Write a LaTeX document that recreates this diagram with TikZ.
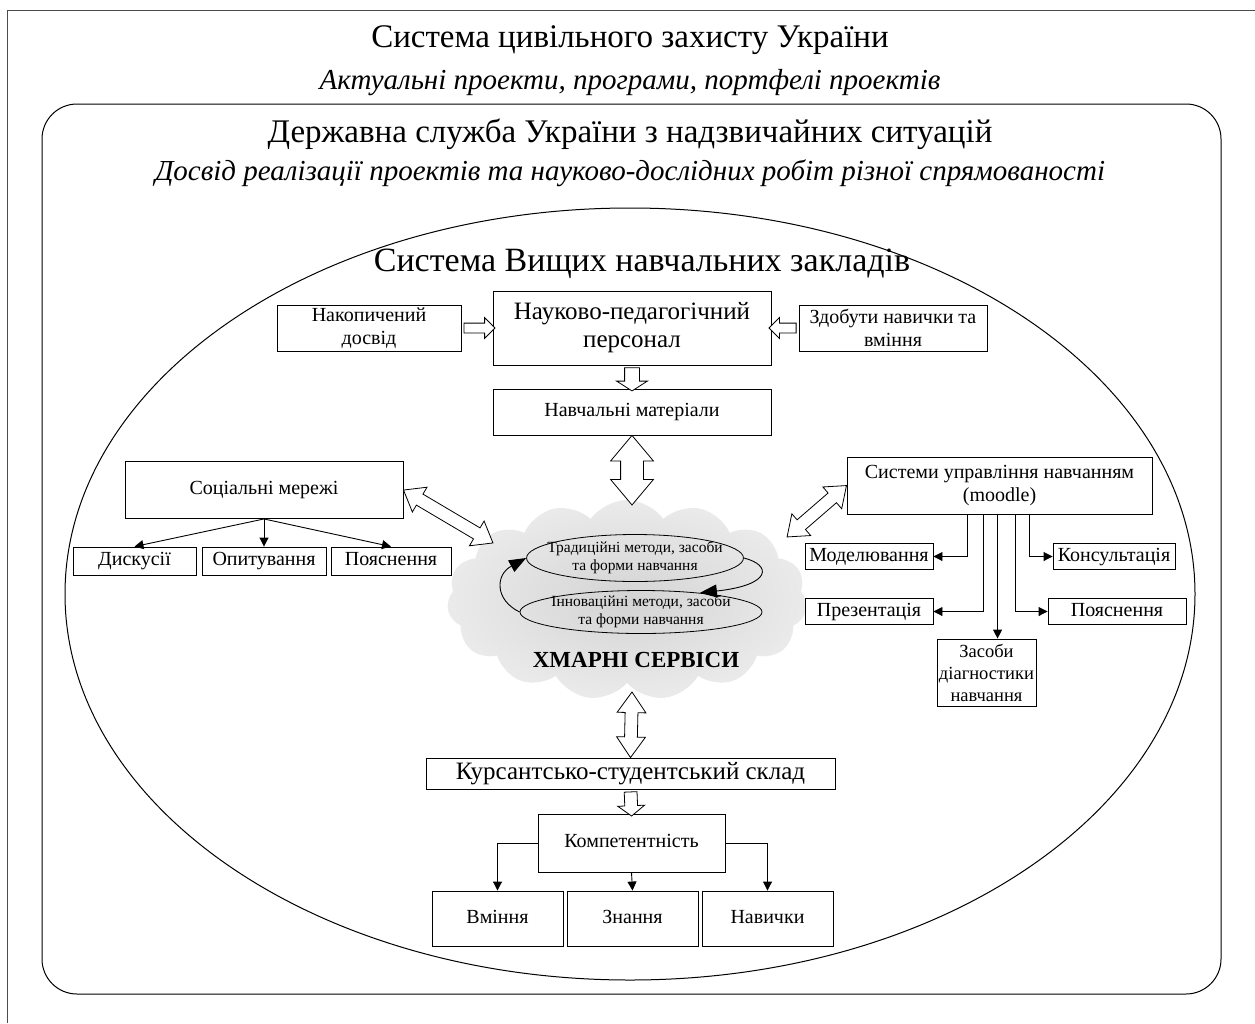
\documentclass[tikz,border=0pt]{standalone}
\usepackage{fontspec}
\setmainfont{Liberation Serif}
\usetikzlibrary{shapes.geometric,shapes.arrows,shapes.symbols,calc,arrows.meta}

\newcommand{\fatlink}[4]{%
  \path let \p1=(#3), \p2=(#4), \n1={atan2(\y2-\y1,\x2-\x1)}, \n2={veclen(\x2-\x1,\y2-\y1)} in
    node[#2, rotate=\n1, minimum height=\n2] (#1) at ($(\p1)!0.5!(\p2)$) {};}

\tikzset{
  box/.style={draw, line width=0.9pt, align=center, inner sep=1pt, font=\fontsize{20}{23}\selectfont},
  one/.style={text height=13pt, text depth=4pt},
  bigbox/.style={box, font=\fontsize{25}{28}\selectfont},
  link/.style={line width=0.9pt, -{Triangle[length=9pt,width=9pt]}},
  fatarr/.style args={#1/#2/#3}{single arrow, draw, fill=white, line width=0.8pt, inner xsep=0pt, inner ysep=#1,
    single arrow head extend=#2, single arrow tip angle=#3},
  dfatarr/.style args={#1/#2/#3}{double arrow, draw, fill=white, line width=0.8pt, inner xsep=0pt, inner ysep=#1,
    double arrow head extend=#2, double arrow tip angle=#3},
  method/.style={draw, ellipse, line width=0.8pt, align=center, inner xsep=-11pt, inner ysep=-1pt,
    font=\fontsize{15.5}{18}\selectfont},
  loop/.style={line width=0.9pt, -{Triangle[length=17pt,width=13pt]}}
}

\begin{document}
\begin{tikzpicture}[x=1pt,y=-1pt]
\useasboundingbox (0,0) rectangle (1255,1023);
\draw[line width=1pt, black!70] (1255,10) -- (7,10) -- (7,1023);

\node (t1) at (630,40) {\fontsize{33}{36}\selectfont Система цивільного захисту України};
\node (t1s) at (630,83) {\fontsize{29}{34}\selectfont\itshape Актуальні проекти, програми, портфелі проектів};
\node[draw, line width=1pt, rounded corners=35pt, minimum width=1179pt, minimum height=890pt] (dsns) at (631.5,549) {};
\node (t2) at (630,134) {\fontsize{33}{36}\selectfont Державна служба України з надзвичайних ситуацій};
\node (t2s) at (630,173) {\fontsize{29}{34}\selectfont\itshape Досвід реалізації проектів та науково-дослідних робіт різної спрямованості};
\node[draw, ellipse, line width=1pt, minimum width=1130pt, minimum height=772pt] (vnz) at (630,594) {};
\node (t3) at (642,264) {\fontsize{34}{38}\selectfont Система Вищих навчальних закладів};

\node[bigbox, minimum width=278pt, minimum height=74pt] (np) at (632,328) {Науково-педагогічний\\персонал};
\node[box, minimum width=184pt, minimum height=46pt] (nd) at (369,328) {Накопичений\\досвід};
\node[box, minimum width=188pt, minimum height=46pt] (zn) at (893,328) {Здобути навички та\\вміння};
\node[box, one, minimum width=278pt, minimum height=46pt] (nm) at (632,412) {Навчальні матеріали};

\node[cloud, cloud puffs=15, cloud puff arc=110, aspect=1.8, minimum width=360pt, minimum height=200pt,
  inner color=gray!34, outer color=gray!16, draw=none] (cl) at (627,600) {};
\coordinate (clN) at (632,505);
\coordinate (clW) at (493,543);
\coordinate (clE) at (787,537);
\coordinate (clS) at (632,692);

\node[method, minimum width=216pt, minimum height=47pt] (trad) at (635,558) {Традиційні методи, засоби\\та форми навчання};
\node[method, minimum width=242pt, minimum height=43pt] (inno) at (641,612) {Інноваційні методи, засоби\\та форми навчання};
\node (hs) at (636,660) {\fontsize{23}{26}\selectfont\bfseries ХМАРНІ СЕРВІСИ};
\draw[loop] (inno.west) .. controls (495,600) and (495,575) .. (trad.west);
\draw[loop] (trad.east) .. controls (772,565) and (772,585) .. (inno.18);

\node[box, one, minimum width=278pt, minimum height=57pt] (soc) at (264,490) {Соціальні мережі};
\node[box, one, minimum width=123pt, minimum height=28pt] (dys) at (134.5,561) {Дискусії};
\node[box, one, minimum width=124pt, minimum height=28pt] (opy) at (264,561) {Опитування};
\node[box, one, minimum width=120pt, minimum height=28pt] (poy) at (391,561) {Пояснення};

\node[box, minimum width=305pt, minimum height=57pt] (sys) at (999.5,485.5) {Системи управління навчанням\\(moodle)};
\node[box, one, minimum width=128pt, minimum height=26pt] (mod) at (869,556.5) {Моделювання};
\node[box, one, minimum width=122pt, minimum height=26pt] (kon) at (1114,556.5) {Консультація};
\node[box, one, minimum width=128pt, minimum height=26pt] (pre) at (869,611.5) {Презентація};
\node[box, one, minimum width=138pt, minimum height=26pt] (poy2) at (1117,611.5) {Пояснення};
\node[box, font=\fontsize{18.5}{22}\selectfont, minimum width=99pt, minimum height=67pt] (zas) at (986.5,672.5) {Засоби\\діагностики\\навчання};

\node[bigbox, text height=17pt, text depth=6pt, minimum width=409pt, minimum height=31pt] (kurs) at (630.5,773.5) {Курсантсько-студентський склад};
\node[box, one, minimum width=187pt, minimum height=58pt] (komp) at (631.5,843) {Компетентність};
\node[box, one, minimum width=131pt, minimum height=55pt] (vmin) at (497.5,918.5) {Вміння};
\node[box, one, minimum width=131pt, minimum height=55pt] (znan) at (632.5,918.5) {Знання};
\node[box, one, minimum width=131pt, minimum height=55pt] (navy) at (767.5,918.5) {Навички};

\fatlink{a1}{fatarr=4.5pt/5.5pt/90}{nd.east}{np.west}
\fatlink{a2}{fatarr=4.5pt/5.5pt/90}{zn.west}{np.east}
\fatlink{a3}{fatarr=7pt/8pt/115}{np.south}{nm.north}
\fatlink{a4}{dfatarr=11pt/10pt/80}{nm.south}{clN}
\fatlink{a5}{dfatarr=6pt/8pt/75}{soc.east}{clW}
\fatlink{a6}{dfatarr=6pt/8pt/75}{sys.west}{clE}
\fatlink{a7}{dfatarr=6pt/8pt/70}{clS}{kurs.north}
\fatlink{a8}{fatarr=6pt/7pt/105}{kurs.south}{komp.north}

\draw[link] (soc.south) -- (dys.north);
\draw[link] (soc.south) -- (opy.north);
\draw[link] (soc.south) -- (poy.north);

\coordinate (s1) at ([xshift=121pt]sys.south west);
\coordinate (s2) at ([xshift=137pt]sys.south west);
\coordinate (s3) at ([xshift=151pt]sys.south west);
\coordinate (s4) at ([xshift=169pt]sys.south west);
\coordinate (s5) at ([xshift=183pt]sys.south west);
\draw[link] (s1) |- (mod.east);
\draw[link] (s2) |- (pre.east);
\draw[link] (s3) -- (s3 |- zas.north);
\draw[link] (s4) |- (poy2.west);
\draw[link] (s5) |- (kon.west);

\draw[link] (komp.west) -| (vmin.north);
\draw[link] (komp.south) -- (znan.north);
\draw[link] (komp.east) -| (navy.north);
\end{tikzpicture}
\end{document}
